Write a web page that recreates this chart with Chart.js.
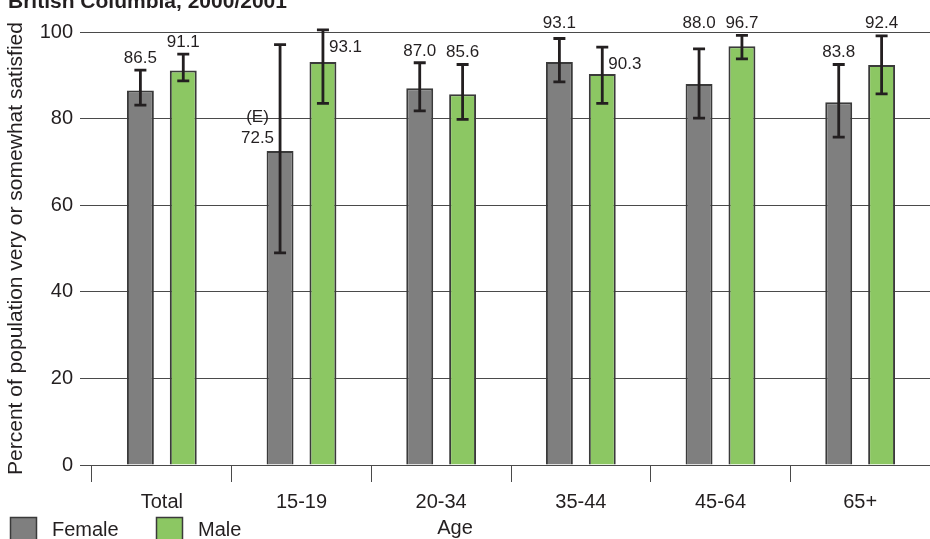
<!DOCTYPE html>
<html>
<head>
<meta charset="utf-8">
<script src="https://cdn.jsdelivr.net/npm/chart.js@4.4.0/dist/chart.umd.min.js"></script>
<style>
    html, body { margin: 0; padding: 0; background: #ffffff; }
    #wrap { width: 930px; height: 539px; position: relative; }
</style>
</head>
<body>
<div id="wrap"><canvas id="myChart" width="930" height="539"></canvas></div>
<script>
const titleText = 'British Columbia, 2000/2001';
const categories = ['Total', '15-19', '20-34', '35-44', '45-64', '65+'];
const female = [86.5, 72.5, 87.0, 93.1, 88.0, 83.8];
const male = [91.1, 93.1, 85.6, 90.3, 96.7, 92.4];
const femaleLow = [83.1, 49.0, 81.8, 88.5, 80.1, 75.7];
const femaleHigh = [91.2, 97.1, 92.9, 98.5, 96.1, 92.5];
const maleLow = [88.7, 83.5, 79.8, 83.5, 93.8, 85.7];
const maleHigh = [94.9, 100.5, 92.5, 96.5, 99.2, 99.1];
const femaleFlags = ['', '(E)', '', '', '', ''];
const maleFlags = ['', '', '', '', '', ''];

// where each value label sits
const femalePlace = ['above', 'left', 'above', 'top', 'top', 'above'];
const malePlace = ['above', 'right', 'above', 'right', 'top', 'top'];

const greyColor = '#7f7f7f';
const greenColor = '#8cc763';
const lineColor = '#4a4a4a';
const textColor = '#231f20';
const fontName = 'Arial, "Liberation Sans", sans-serif';

const errorBars = {
    id: 'errorBars',
    afterDatasetsDraw(chart) {
        const ctx = chart.ctx;
        const y = chart.scales.y;
        const lows = [femaleLow, maleLow];
        const highs = [femaleHigh, maleHigh];
        const flags = [femaleFlags, maleFlags];
        const places = [femalePlace, malePlace];

        ctx.save();
        for (let d = 0; d < 2; d++) {
            const meta = chart.getDatasetMeta(d);
            meta.data.forEach((bar, i) => {
                const top = y.getPixelForValue(highs[d][i]);
                const bottom = y.getPixelForValue(lows[d][i]);
                ctx.strokeStyle = textColor;
                ctx.lineWidth = 2.8;
                ctx.beginPath();
                ctx.moveTo(bar.x, top);
                ctx.lineTo(bar.x, bottom);
                ctx.moveTo(bar.x - 6, top);
                ctx.lineTo(bar.x + 6, top);
                ctx.moveTo(bar.x - 6, bottom);
                ctx.lineTo(bar.x + 6, bottom);
                ctx.stroke();

                const value = chart.data.datasets[d].data[i].toFixed(1);
                ctx.fillStyle = textColor;
                ctx.font = '17px ' + fontName;
                ctx.textBaseline = 'alphabetic';
                const place = places[d][i];

                if (place === 'above') {
                    ctx.textAlign = 'center';
                    ctx.fillText(value, bar.x, top - 7);
                } else if (place === 'top') {
                    ctx.textAlign = 'center';
                    ctx.fillText(value, bar.x, y.getPixelForValue(100) - 4);
                } else if (place === 'right') {
                    ctx.textAlign = 'left';
                    ctx.fillText(value, bar.x + 6, top + 22);
                } else if (place === 'left') {
                    ctx.textAlign = 'right';
                    const base = bar.y - 8;
                    ctx.fillText(value, bar.x - 6, base);
                    if (flags[d][i]) {
                        const w = ctx.measureText(value).width;
                        ctx.textAlign = 'center';
                        ctx.fillText(flags[d][i], bar.x - 6 - w / 2, base - 21);
                    }
                }
            });
        }
        ctx.restore();
    },
    afterDraw(chart) {
        const ctx = chart.ctx;
        ctx.save();

        // title, cut at the top edge like the original
        ctx.fillStyle = textColor;
        ctx.font = 'bold 21px ' + fontName;
        ctx.textAlign = 'left';
        ctx.textBaseline = 'alphabetic';
        ctx.fillText(titleText, 8, 8);

        // legend
        const items = chart.data.datasets;
        const xs = [10, 156];
        items.forEach((ds, i) => {
            ctx.fillStyle = ds.backgroundColor;
            ctx.strokeStyle = '#3a3a3a';
            ctx.lineWidth = 1.5;
            ctx.fillRect(xs[i], 517.5, 26, 26);
            ctx.strokeRect(xs[i] + 0.5, 517.5, 26, 26);
            ctx.fillStyle = textColor;
            ctx.font = '20px ' + fontName;
            ctx.textBaseline = 'middle';
            ctx.fillText(ds.label, xs[i] + 42, 530);
        });

        // x axis title
        ctx.textAlign = 'center';
        ctx.fillText('Age', 455, 528);

        ctx.restore();
    }
};

const ctx = document.getElementById('myChart');

new Chart(ctx, {
    type: 'bar',
    data: {
        labels: categories,
        datasets: [{
            label: 'Female',
            data: female,
            backgroundColor: greyColor,
            borderColor: '#3a3a3a',
            borderWidth: 2,
            categoryPercentage: 0.614,
            barPercentage: 0.628
        }, {
            label: 'Male',
            data: male,
            backgroundColor: greenColor,
            borderColor: '#3a3a3a',
            borderWidth: 2,
            categoryPercentage: 0.614,
            barPercentage: 0.628
        }]
    },
    options: {
        responsive: false,
        animation: false,
        layout: {
            padding: {top: 32, left: 0, right: 0, bottom: 0}
        },
        plugins: {
            legend: {display: false},
            tooltip: {enabled: false}
        },
        scales: {
            x: {
                afterFit(scale) {
                    scale.height = 74;
                },
                grid: {
                    offset: true,
                    drawOnChartArea: false,
                    drawTicks: true,
                    tickLength: 17,
                    color: lineColor,
                    lineWidth: 1
                },
                border: {display: true, color: lineColor, width: 1},
                ticks: {
                    color: textColor,
                    padding: 8,
                    font: {family: fontName, size: 20}
                }
            },
            y: {
                min: 0,
                max: 100,
                afterFit(scale) {
                    scale.width = 92;
                },
                grid: {
                    drawTicks: true,
                    tickLength: 12,
                    color: lineColor,
                    lineWidth: 1
                },
                border: {display: false},
                ticks: {
                    stepSize: 20,
                    color: textColor,
                    padding: 7,
                    font: {family: fontName, size: 20}
                },
                title: {
                    display: true,
                    text: 'Percent of population very or somewhat satisfied',
                    color: textColor,
                    padding: {top: 4, bottom: 0},
                    font: {family: fontName, size: 21}
                }
            }
        }
    },
    plugins: [errorBars]
});
</script>
</body>
</html>
